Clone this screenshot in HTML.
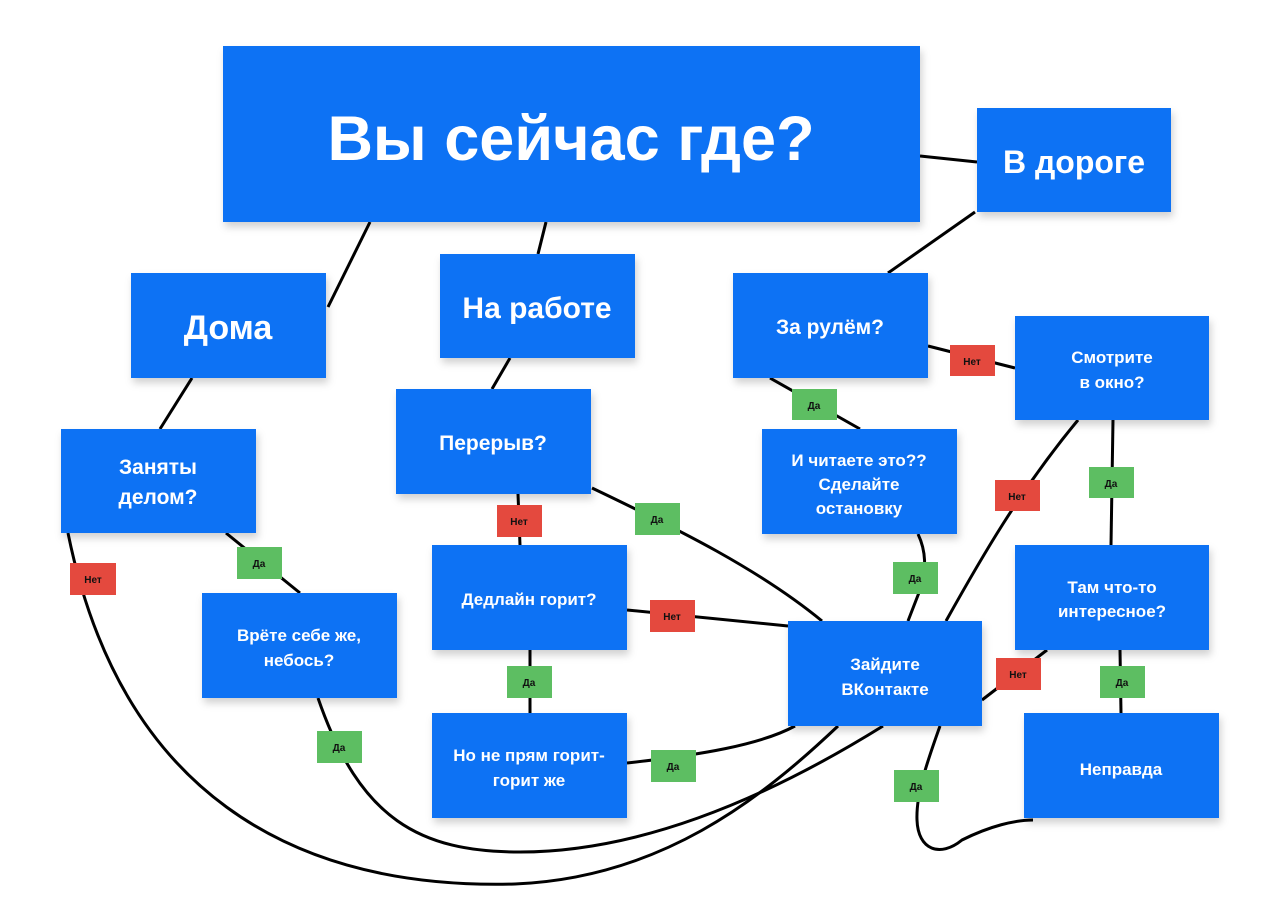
<!DOCTYPE html>
<html><head><meta charset="utf-8"><style>
html,body{margin:0;padding:0;background:#fff}
svg{display:block}
text{font-family:"Liberation Sans",sans-serif;fill:#fff;text-anchor:middle;font-weight:bold}
.b{fill:#0b72f4}
.r{fill:#e4493e}
.g{fill:#5dbe62}
.l text{fill:#111;font-size:10px}
path,line{stroke:#000;stroke-width:3;fill:none}
</style></head><body>
<svg width="1280" height="922" viewBox="0 0 1280 922">
<defs><filter id="s" x="-10%" y="-10%" width="130%" height="140%"><feDropShadow dx="2" dy="5" stdDeviation="4" flood-opacity="0.18"/></filter></defs>
<line x1="920" y1="156" x2="977" y2="162"/>
<line x1="370" y1="222" x2="328" y2="307"/>
<line x1="546" y1="222" x2="538" y2="254"/>
<line x1="975" y1="212" x2="888" y2="273"/>
<line x1="192" y1="378" x2="160" y2="429"/>
<line x1="510" y1="358" x2="492" y2="389"/>
<line x1="928" y1="346" x2="1015" y2="368"/>
<line x1="770" y1="378" x2="860" y2="429"/>
<line x1="1113" y1="420" x2="1111" y2="545"/>
<path d="M1078 420 C1020 490 980 560 946 621"/>
<line x1="226" y1="533" x2="300" y2="593"/>
<line x1="518" y1="494" x2="520" y2="545"/>
<path d="M592 488 C680 530 760 570 822 621"/>
<path d="M918 534 C928 555 925 575 920 590 L908 621"/>
<line x1="627" y1="610" x2="788" y2="626"/>
<line x1="530" y1="650" x2="530" y2="713"/>
<path d="M627 763 C700 755 760 745 795 726"/>
<line x1="1047" y1="650" x2="982" y2="700"/>
<line x1="1120" y1="650" x2="1121" y2="713"/>
<path d="M68 533 C120 790 290 890 515 884 C660 878 760 800 838 726"/>
<path d="M318 698 C360 820 420 852 520 852 C650 852 780 790 883 726"/>
<path d="M940 726 C926 765 916 795 917 820 C918 850 940 858 962 840 C990 826 1015 820 1033 820"/>
<g filter="url(#s)">
<rect class="b" x="223" y="46" width="697" height="176"/>
<rect class="b" x="977" y="108" width="194" height="104"/>
<rect class="b" x="131" y="273" width="195" height="105"/>
<rect class="b" x="440" y="254" width="195" height="104"/>
<rect class="b" x="733" y="273" width="195" height="105"/>
<rect class="b" x="1015" y="316" width="194" height="104"/>
<rect class="b" x="61" y="429" width="195" height="104"/>
<rect class="b" x="396" y="389" width="195" height="105"/>
<rect class="b" x="762" y="429" width="195" height="105"/>
<rect class="b" x="202" y="593" width="195" height="105"/>
<rect class="b" x="432" y="545" width="195" height="105"/>
<rect class="b" x="788" y="621" width="194" height="105"/>
<rect class="b" x="1015" y="545" width="194" height="105"/>
<rect class="b" x="432" y="713" width="195" height="105"/>
<rect class="b" x="1024" y="713" width="195" height="105"/>
</g>
<text x="571" y="160" font-size="63">Вы сейчас где?</text>
<text x="1074" y="173" font-size="32">В дороге</text>
<text x="228" y="339" font-size="34">Дома</text>
<text x="537" y="318" font-size="30">На работе</text>
<text x="830" y="334" font-size="21">За рулём?</text>
<text x="1112" y="363" font-size="17" font-weight="normal">Смотрите</text>
<text x="1112" y="388" font-size="17" font-weight="normal">в окно?</text>
<text x="158" y="474" font-size="21">Заняты</text>
<text x="158" y="504" font-size="21">делом?</text>
<text x="493" y="450" font-size="21">Перерыв?</text>
<text x="859" y="466" font-size="17" font-weight="normal">И читаете это??</text>
<text x="859" y="490" font-size="17" font-weight="normal">Сделайте</text>
<text x="859" y="514" font-size="17" font-weight="normal">остановку</text>
<text x="299" y="641" font-size="17" font-weight="normal">Врёте себе же,</text>
<text x="299" y="666" font-size="17" font-weight="normal">небось?</text>
<text x="529" y="605" font-size="17" font-weight="normal">Дедлайн горит?</text>
<text x="885" y="670" font-size="17" font-weight="normal">Зайдите</text>
<text x="885" y="695" font-size="17" font-weight="normal">ВКонтакте</text>
<text x="1112" y="593" font-size="17" font-weight="normal">Там что-то</text>
<text x="1112" y="617" font-size="17" font-weight="normal">интересное?</text>
<text x="529" y="761" font-size="17" font-weight="normal">Но не прям горит-</text>
<text x="529" y="786" font-size="17" font-weight="normal">горит же</text>
<text x="1121" y="775" font-size="17" font-weight="normal">Неправда</text>
<g class="l">
<rect class="r" x="950" y="345" width="45" height="31"/><text x="972" y="365">Нет</text>
<rect class="g" x="792" y="389" width="45" height="31"/><text x="814" y="409">Да</text>
<rect class="r" x="995" y="480" width="45" height="31"/><text x="1017" y="500">Нет</text>
<rect class="g" x="1089" y="467" width="45" height="31"/><text x="1111" y="487">Да</text>
<rect class="r" x="70" y="563" width="46" height="32"/><text x="93" y="583">Нет</text>
<rect class="g" x="237" y="547" width="45" height="32"/><text x="259" y="567">Да</text>
<rect class="r" x="497" y="505" width="45" height="32"/><text x="519" y="525">Нет</text>
<rect class="g" x="635" y="503" width="45" height="32"/><text x="657" y="523">Да</text>
<rect class="g" x="893" y="562" width="45" height="32"/><text x="915" y="582">Да</text>
<rect class="r" x="650" y="600" width="45" height="32"/><text x="672" y="620">Нет</text>
<rect class="g" x="507" y="666" width="45" height="32"/><text x="529" y="686">Да</text>
<rect class="g" x="317" y="731" width="45" height="32"/><text x="339" y="751">Да</text>
<rect class="g" x="651" y="750" width="45" height="32"/><text x="673" y="770">Да</text>
<rect class="r" x="996" y="658" width="45" height="32"/><text x="1018" y="678">Нет</text>
<rect class="g" x="1100" y="666" width="45" height="32"/><text x="1122" y="686">Да</text>
<rect class="g" x="894" y="770" width="45" height="32"/><text x="916" y="790">Да</text>
</g>
</svg>
</body></html>
